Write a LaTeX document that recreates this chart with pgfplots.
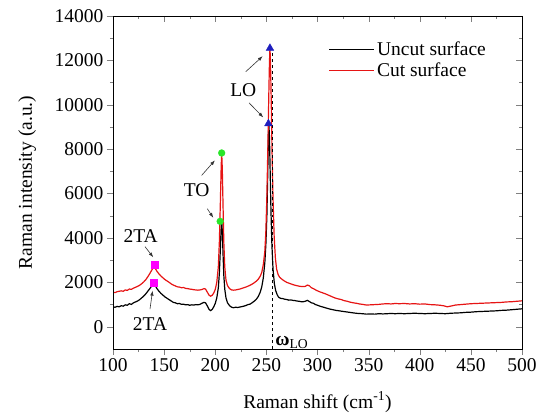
\documentclass[border=0pt]{standalone}
\usepackage{pgfplots}
\pgfplotsset{compat=1.18}
\usepackage{fontspec}
\setmainfont{Liberation Serif}
\usetikzlibrary{arrows.meta}
\definecolor{myred}{RGB}{230,20,20}
\definecolor{mymag}{RGB}{255,0,255}
\definecolor{mygreen}{RGB}{40,230,40}
\definecolor{myblue}{RGB}{30,30,190}
\begin{document}
\begin{tikzpicture}
\path[use as bounding box] (0,0) rectangle (543bp,417bp);
\begin{axis}[
  at={(113bp,68bp)}, anchor=south west,
  scale only axis, width=409bp, height=333bp,
  xmin=100, xmax=500, ymin=-1000, ymax=14000,
  xtick={100,150,...,500}, ytick={0,2000,...,14000},
  minor x tick num=1, minor y tick num=1,
  xtick pos=left, ytick pos=left, tick align=outside,
  major tick length=6bp, minor tick length=3bp,
  scaled y ticks=false,
  /pgf/number format/1000 sep={},
  /pgf/number format/assume math mode=true,
  font=\fontsize{19.5bp}{23bp}\selectfont,
  xlabel={Raman shift (cm\textsuperscript{-1})},
  ylabel={Raman intensity (a.u.)},
  xlabel style={at={(axis description cs:0.5,-0.16)}, anchor=center},
  ylabel style={at={(axis description cs:-0.21,0.5)}, anchor=center},
  legend style={at={(axis description cs:0.52,0.935)}, anchor=north west, draw=none, fill=none, row sep=2bp, font=\fontsize{19.5bp}{23bp}\selectfont},
  legend cell align=left,
  legend image code/.code={\draw[mark repeat=2,mark phase=2] plot coordinates {(0bp,0bp) (22.5bp,0bp) (45bp,0bp)};},
]
\addplot[black, line width=1.2bp] coordinates {
(100,900) (102,880) (104,920) (106,900) (108,950) (110,930) (112,990) (114,970) (116,1040) (118,1010)
(120,1080) (122,1120) (124,1160) (126,1220) (128,1300) (130,1380) (132,1480) (134,1600) (136,1720) (138,1850)
(139.5,1950) (141,1880) (143,1720) (145,1600) (147,1500) (149,1420) (151,1340) (153,1280) (155,1220) (157,1160)
(159,1100) (161,1080) (163,1040) (165,1050) (167,1010) (169,1020) (171,990) (173,1000) (175,970) (177,990)
(179,980) (181,1000) (183,990) (185,1010) (187,1060) (189,1100) (190.5,1080) (192,960) (194,780) (195.5,730)
(197,780) (198.5,900) (200,1050) (201.5,1300) (203,1750) (204,2400) (205,3500) (205.8,4500) (206.3,4800) (206.9,4300)
(207.6,3300) (208.4,2300) (209.3,1700) (210.5,1300) (212,1080) (214,950) (216,880) (218,860) (220,880) (222,870)
(224,890) (226,910) (228,930) (230,960) (232,1000) (234,1020) (236,1080) (238,1150) (240,1230) (242,1360)
(244,1560) (245.5,1800) (247,2200) (248.5,2900) (249.5,3700) (250.5,5000) (251.3,6800) (252,8600) (252.4,9150) (253,8600)
(253.7,7000) (254.5,5200) (255.4,3700) (256.5,2600) (257.8,1950) (259,1650) (260.5,1450) (262,1330) (264,1280) (266,1270)
(268,1240) (270,1230) (272,1200) (274,1210) (276,1190) (278,1180) (280,1160) (282,1150) (284,1130) (286,1130)
(288,1150) (290,1190) (292,1140) (294,1080) (296,1060) (298,1000) (300,970) (303,920) (306,880) (309,840)
(312,800) (315,770) (318,740) (321,720) (324,700) (327,680) (330,660) (333,640) (336,620) (340,600)
(344,590) (348,570) (352,580) (356,570) (360,590) (364,580) (368,590) (372,600) (376,590) (380,600)
(385,590) (390,600) (395,610) (400,600) (405,590) (410,600) (415,610) (420,600) (425,590) (430,610)
(435,620) (440,630) (445,650) (450,660) (455,680) (460,690) (465,700) (470,710) (475,720) (480,740)
(485,750) (490,770) (495,790) (500,810)
};
\addlegendentry{Uncut surface}
\addplot[myred, line width=1.2bp] coordinates {
(100,1560) (102,1540) (104,1580) (106,1600) (108,1620) (110,1600) (112,1660) (114,1640) (116,1700) (118,1690)
(120,1740) (122,1780) (124,1820) (126,1870) (128,1940) (130,2020) (132,2120) (134,2250) (136,2400) (138,2560)
(140,2700) (141.5,2620) (143,2500) (145,2380) (147,2280) (149,2200) (151,2120) (153,2060) (155,2000) (157,1930)
(159,1880) (161,1840) (163,1800) (165,1790) (167,1760) (169,1770) (171,1730) (173,1720) (175,1700) (177,1690)
(179,1670) (181,1660) (183,1650) (185,1660) (187,1680) (189,1720) (190.5,1700) (192,1580) (194,1420) (195.5,1380)
(197,1420) (198.5,1520) (200,1680) (201.5,2000) (203,2700) (204,3800) (205,5600) (205.8,7200) (206.3,7850) (206.9,7100)
(207.6,5500) (208.4,3800) (209.3,2700) (210.5,2100) (212,1850) (214,1720) (216,1660) (218,1650) (220,1660) (222,1680)
(224,1700) (226,1730) (228,1760) (230,1790) (232,1830) (234,1870) (236,1920) (238,1980) (240,2050) (242,2140)
(244,2280) (245.5,2450) (247,2800) (248.5,3400) (249.5,4300) (250.5,5900) (251.5,8200) (252.4,10500) (253,11900) (253.5,12550)
(254,12000) (254.7,10300) (255.5,8000) (256.5,5800) (257.6,4100) (258.8,3100) (260,2600) (261.5,2350) (263,2230) (265,2150)
(267,2080) (270,2000) (273,1950) (276,1900) (279,1860) (282,1830) (285,1810) (288,1820) (290,1880) (292,1850)
(294,1760) (296,1720) (299,1640) (302,1580) (305,1530) (308,1480) (311,1420) (314,1360) (317,1300) (320,1260)
(323,1230) (326,1180) (329,1150) (332,1110) (335,1080) (338,1060) (341,1030) (344,1010) (348,980) (352,990)
(356,1000) (360,1010) (364,1030) (368,1040) (372,1030) (376,1050) (380,1040) (385,1050) (390,1030) (395,1040)
(400,1020) (405,1030) (410,1000) (415,990) (420,970) (424,940) (427,900) (430,930) (435,980) (440,1000)
(445,1020) (450,1040) (455,1050) (460,1060) (465,1070) (470,1080) (475,1090) (480,1100) (485,1120) (490,1130)
(495,1150) (500,1170)
};
\addlegendentry{Cut surface}
% dashed omega_LO line
\addplot[black, dashed, line width=1.1bp, forget plot] coordinates {(256,-1000) (256,12500)};
% markers
\addplot[only marks, mark=square*, mark size=3.6bp, mymag, forget plot] coordinates {(140,1990) (141,2800)};
\addplot[only marks, mark=*, mark size=3.4bp, mygreen, forget plot] coordinates {(204.8,4750) (206.3,7830)};
\addplot[only marks, mark=triangle*, mark size=4.4bp, myblue, forget plot] coordinates {(252,9150) (253.5,12550)};
% annotations
\begin{scope}[-{Latex[length=5bp,width=3.5bp]}, line width=0.6bp, black!80]
\draw (axis cs:229.8,11490) -- (axis cs:246.4,12190);
\draw (axis cs:233,10090) -- (axis cs:247,9430);
\draw (axis cs:186.7,6820) -- (axis cs:199.7,7500);
\draw (axis cs:192.2,5320) -- (axis cs:198.1,4910);
\draw (axis cs:131.3,3610) -- (axis cs:139.4,3130);
\draw (axis cs:136.2,800) -- (axis cs:138.7,1630);
\end{scope}
\node at (axis cs:227.4,10660) {LO};
\node at (axis cs:181.8,6140) {TO};
\node at (axis cs:127,4110) {2TA};
\node at (axis cs:136.2,120) {2TA};
\node[anchor=west, inner sep=0pt] at (axis cs:258.5,-700) {\textbf{ω}\textsubscript{LO}};
\end{axis}
\begin{axis}[
  at={(113bp,68bp)}, anchor=south west,
  scale only axis, width=409bp, height=333bp,
  xmin=100, xmax=500, ymin=-1000, ymax=14000,
  xtick={100,150,...,500}, ytick={0,2000,...,14000},
  minor x tick num=1, minor y tick num=1,
  xtick pos=right, ytick pos=right, tick align=inside,
  major tick length=6bp, minor tick length=3bp,
  scaled x ticks=false, scaled y ticks=false,
  xticklabels={}, yticklabels={},
]
\end{axis}
\end{tikzpicture}
\end{document}
